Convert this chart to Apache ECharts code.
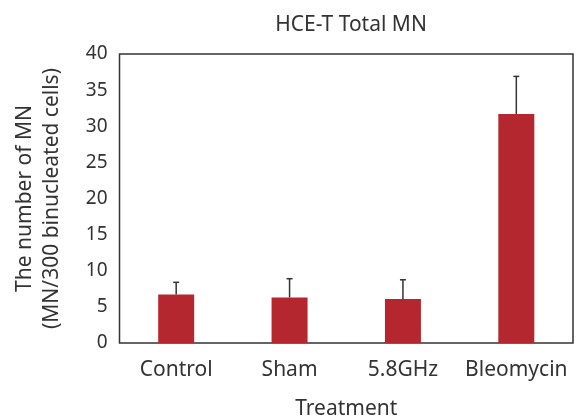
<!DOCTYPE html>
<html>
<head>
<meta charset="utf-8">
<script src="https://cdn.jsdelivr.net/npm/echarts@6/dist/echarts.min.js"></script>
<style>
html,body{margin:0;padding:0;background:#fff;}
#main{width:580px;height:416px;}
</style>
</head>
<body>
<div id="main"></div>
<script>
var categories = ['Control', 'Sham', '5.8GHz', 'Bleomycin'];
var means = [6.7, 6.3, 6.1, 31.7];
var errors = [1.7, 2.6, 2.65, 5.2];   // upper error only
var yTicks = { min: 0, max: 40, step: 5 };

var errData = [];
for (var i = 0; i < categories.length; i++) {
	errData.push([i, means[i], means[i] + errors[i]]);
}

var txt = '#333';
var fam = '"Noto Sans", "Open Sans", sans-serif';

var myChart = echarts.init(document.getElementById('main'));
var option = {
	animation: false,
	title: {
		text: 'HCE-T Total MN',
		left: 346,
		textAlign: 'center',
		top: 10,
		textStyle: { fontFamily: fam, fontSize: 21, fontWeight: 'normal', color: txt }
	},
	grid: {
		left: 119.5, right: 7, top: 54, bottom: 73,
		outerBoundsMode: 'none',
		show: true, borderColor: '#333', borderWidth: 1.5, backgroundColor: '#fff'
	},
	xAxis: {
		type: 'category',
		data: categories,
		name: 'Treatment',
		nameLocation: 'middle',
		nameGap: 56,
		nameTextStyle: { fontFamily: fam, fontSize: 21, color: txt },
		axisLine: { show: false },
		axisTick: { show: false },
		axisLabel: { fontFamily: fam, fontSize: 21, color: txt, margin: 17, interval: 0 }
	},
	yAxis: {
		type: 'value',
		min: yTicks.min, max: yTicks.max, interval: yTicks.step,
		name: 'The number of MN\n(MN/300 binucleated cells)',
		nameLocation: 'middle',
		nameGap: 54,
		nameTextStyle: { fontFamily: fam, fontSize: 21, color: txt, lineHeight: 27 },
		axisLine: { show: false },
		axisTick: { show: false },
		splitLine: { show: false },
		axisLabel: { fontFamily: fam, fontSize: 19, color: txt, margin: 12 }
	},
	series: [
		{
			type: 'bar',
			data: means,
			barWidth: 36,
			itemStyle: { color: '#b5272f' },
			z: 2
		},
		{
			type: 'custom',
			data: errData,
			z: 3,
			renderItem: function (params, api) {
				var x = api.value(0);
				var lo = api.coord([x, api.value(1)]);
				var hi = api.coord([x, api.value(2)]);
				var cap = 3;
				var st = { stroke: '#333', lineWidth: 1.5 };
				return {
					type: 'group',
					children: [
						{ type: 'line', shape: { x1: lo[0], y1: lo[1], x2: hi[0], y2: hi[1] }, style: st },
						{ type: 'line', shape: { x1: hi[0] - cap, y1: hi[1], x2: hi[0] + cap, y2: hi[1] }, style: st }
					]
				};
			}
		}
	]
};
myChart.setOption(option);
</script>
</body>
</html>
